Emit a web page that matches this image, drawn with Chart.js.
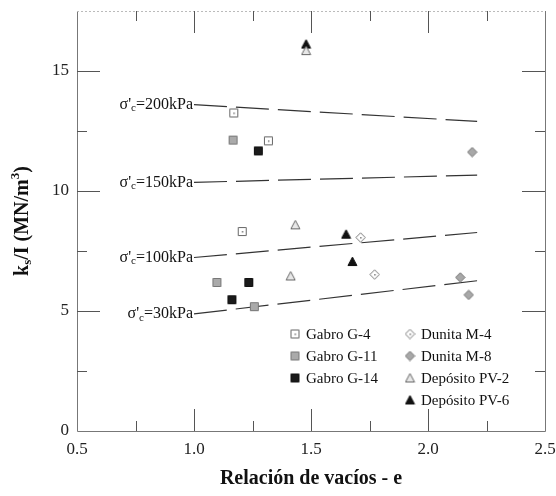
<!DOCTYPE html>
<html>
<head>
<meta charset="utf-8">
<script src="https://cdn.jsdelivr.net/npm/chart.js@4/dist/chart.umd.min.js"></script>
<style>
  html, body { margin: 0; padding: 0; background: #fff; }
  #wrap { width: 556px; height: 496px; }
</style>
</head>
<body>
<div id="wrap"><canvas id="chart" width="556" height="496"></canvas></div>
<script>
// axis ticks
const xTicks = [0.5, 1.0, 1.5, 2.0, 2.5];
const yTicks = [0, 5, 10, 15];

// measured points (void ratio e, ks/I)
const gabroG4_e = [1.170, 1.318, 1.206];
const gabroG4_k = [13.25, 12.09, 8.31];
const gabroG11_e = [1.167, 1.098, 1.258];
const gabroG11_k = [12.12, 6.19, 5.18];
const gabroG14_e = [1.275, 1.234, 1.162];
const gabroG14_k = [11.67, 6.19, 5.47];
const dunitaM4_e = [1.712, 1.772];
const dunitaM4_k = [8.06, 6.52];
const dunitaM8_e = [2.189, 2.138, 2.174];
const dunitaM8_k = [11.62, 6.40, 5.67];
const pv2_e = [1.479, 1.433, 1.413];
const pv2_k = [15.85, 8.59, 6.46];
const pv6_e = [1.479, 1.650, 1.677];
const pv6_k = [16.12, 8.20, 7.06];

// dashed trend lines per confining stress
const trendLabels = ["200kPa", "150kPa", "100kPa", "30kPa"];
const trend_e = [1.0, 2.21];
const trend200 = [13.6, 12.9];
const trend150 = [10.36, 10.66];
const trend100 = [7.23, 8.27];
const trend30 = [4.88, 6.26];

const FONT = "'Liberation Serif', 'DejaVu Serif', serif";

function makeMarker(shape, fill, stroke, dot) {
    const c = document.createElement("canvas");
    c.width = 11; c.height = 11;
    const g = c.getContext("2d");
    g.fillStyle = fill;
    g.strokeStyle = stroke;
    g.lineWidth = 1;
    g.beginPath();
    if (shape === "square") {
        g.rect(1.5, 1.5, 8, 8);
    } else if (shape === "diamond") {
        g.moveTo(5.5, 0.8); g.lineTo(10.2, 5.5); g.lineTo(5.5, 10.2); g.lineTo(0.8, 5.5); g.closePath();
    } else {
        g.moveTo(5.5, 1); g.lineTo(10, 9.5); g.lineTo(1, 9.5); g.closePath();
    }
    g.fill();
    g.stroke();
    if (dot) {
        g.fillStyle = "#777";
        g.fillRect(5, 5, 1.5, 1.5);
    }
    return c;
}

const mk = {
    g4: makeMarker("square", "#fff", "#666", true),
    g11: makeMarker("square", "#aaa", "#777", false),
    g14: makeMarker("square", "#1a1a1a", "#111", false),
    m4: makeMarker("diamond", "#fff", "#777", true),
    m8: makeMarker("diamond", "#a8a8a8", "#777", false),
    pv2: makeMarker("triangle", "#e8e8e8", "#666", false),
    pv6: makeMarker("triangle", "#111", "#111", false)
};

function pts(xs, ys) {
    return xs.map((x, i) => ({ x: x, y: ys[i] }));
}

function pointSet(label, xs, ys, img) {
    return {
        label: label,
        data: pts(xs, ys),
        pointStyle: img,
        showLine: false,
        order: 1
    };
}

function trendSet(label, ys) {
    return {
        label: label,
        data: pts(trend_e, ys),
        showLine: true,
        borderColor: "#333",
        borderWidth: 1.2,
        borderDash: [33, 9],
        pointRadius: 0,
        isTrend: true,
        order: 5
    };
}

const datasets = [
    trendSet(trendLabels[0], trend200),
    trendSet(trendLabels[1], trend150),
    trendSet(trendLabels[2], trend100),
    trendSet(trendLabels[3], trend30),
    pointSet("Gabro G-4", gabroG4_e, gabroG4_k, mk.g4),
    pointSet("Gabro G-11", gabroG11_e, gabroG11_k, mk.g11),
    pointSet("Gabro G-14", gabroG14_e, gabroG14_k, mk.g14),
    pointSet("Dunita M-4", dunitaM4_e, dunitaM4_k, mk.m4),
    pointSet("Dunita M-8", dunitaM8_e, dunitaM8_k, mk.m8),
    pointSet("Depósito PV-2", pv2_e, pv2_k, mk.pv2),
    pointSet("Depósito PV-6", pv6_e, pv6_k, mk.pv6)
];

// frame, inward ticks, titles, trend labels and legend
const decorPlugin = {
    id: "decor",
    afterDraw(chart) {
        const ctx = chart.ctx;
        const a = chart.chartArea;
        const xs = chart.scales.x;
        const ys = chart.scales.y;
        ctx.save();

        // frame
        ctx.strokeStyle = "#777";
        ctx.lineWidth = 1;
        ctx.beginPath();
        ctx.moveTo(a.left + 0.5, a.top); ctx.lineTo(a.left + 0.5, a.bottom + 0.5);
        ctx.lineTo(a.right + 0.5, a.bottom + 0.5); ctx.lineTo(a.right + 0.5, a.top);
        ctx.stroke();
        ctx.strokeStyle = "#bbb";
        ctx.setLineDash([2, 2]);
        ctx.beginPath();
        ctx.moveTo(a.left, a.top + 0.5); ctx.lineTo(a.right, a.top + 0.5);
        ctx.stroke();
        ctx.setLineDash([]);

        // inward ticks
        ctx.strokeStyle = "#555";
        ctx.beginPath();
        for (let v = 0.75; v < 2.5; v += 0.25) {
            const px = Math.round(xs.getPixelForValue(v)) + 0.5;
            const len = Math.abs((v * 2) % 1) < 0.01 ? 22 : 10;
            ctx.moveTo(px, a.bottom); ctx.lineTo(px, a.bottom - len);
            ctx.moveTo(px, a.top); ctx.lineTo(px, a.top + len);
        }
        for (let v = 2.5; v < 17.5; v += 2.5) {
            const py = Math.round(ys.getPixelForValue(v)) + 0.5;
            const len = (v % 5) === 0 ? 23 : 10;
            ctx.moveTo(a.left, py); ctx.lineTo(a.left + len, py);
            ctx.moveTo(a.right, py); ctx.lineTo(a.right - len, py);
        }
        ctx.stroke();

        // trend line labels  σ'c=...
        ctx.fillStyle = "#111";
        ctx.textBaseline = "middle";
        chart.data.datasets.forEach((ds) => {
            if (!ds.isTrend) return;
            const x0 = xs.getPixelForValue(ds.data[0].x) - 1;
            const y0 = ys.getPixelForValue(ds.data[0].y);
            ctx.font = "16px " + FONT;
            const main = "=" + ds.label;
            const wMain = ctx.measureText(main).width;
            ctx.font = "11px " + FONT;
            const wSub = ctx.measureText("c").width;
            ctx.font = "16px " + FONT;
            const wSig = ctx.measureText("σ'").width;
            let x = x0 - wMain - wSub - wSig;
            ctx.textAlign = "left";
            ctx.fillText("σ'", x, y0);
            x += wSig;
            ctx.font = "11px " + FONT;
            ctx.fillText("c", x, y0 + 4);
            x += wSub;
            ctx.font = "16px " + FONT;
            ctx.fillText(main, x, y0);
        });

        // legend (two columns)
        const pointSets = chart.data.datasets.filter((d) => !d.isTrend);
        const cols = [
            { mx: a.left + 218, tx: a.left + 229, items: pointSets.slice(0, 3) },
            { mx: a.left + 333, tx: a.left + 344, items: pointSets.slice(3) }
        ];
        ctx.font = "15px " + FONT;
        ctx.textAlign = "left";
        cols.forEach((col) => {
            col.items.forEach((ds, i) => {
                const y = a.top + 323 + i * 22;
                ctx.drawImage(ds.pointStyle, col.mx - 5.5, y - 5.5);
                ctx.fillText(ds.label, col.tx, y + 1);
            });
        });

        // x title
        ctx.font = "bold 20px " + FONT;
        ctx.textAlign = "center";
        ctx.fillText("Relación de vacíos - e", (a.left + a.right) / 2, 479);

        // y title  ks/I (MN/m3)
        ctx.translate(23, (a.top + a.bottom) / 2);
        ctx.rotate(-Math.PI / 2);
        const parts = [
            ["k", 20, 0], ["s", 13, 5], ["/I (MN/m", 20, 0], ["3", 13, -7], [")", 20, 0]
        ];
        let total = 0;
        parts.forEach((p) => { ctx.font = "bold " + p[1] + "px " + FONT; total += ctx.measureText(p[0]).width; });
        let x = -total / 2;
        ctx.textAlign = "left";
        parts.forEach((p) => {
            ctx.font = "bold " + p[1] + "px " + FONT;
            ctx.fillText(p[0], x, p[2]);
            x += ctx.measureText(p[0]).width;
        });
        ctx.restore();
    }
};

new Chart(document.getElementById("chart").getContext("2d"), {
    type: "scatter",
    data: { datasets: datasets },
    options: {
        responsive: false,
        animation: false,
        layout: { padding: { top: 11, right: 11, left: 0, bottom: 0 } },
        plugins: {
            legend: { display: false },
            tooltip: { enabled: false }
        },
        scales: {
            x: {
                type: "linear",
                min: 0.5,
                max: 2.5,
                afterFit(scale) {
                    scale.height = 65;
                    scale.paddingLeft = 0;
                    scale.paddingRight = 0;
                },
                afterBuildTicks(scale) { scale.ticks = xTicks.map((v) => ({ value: v })); },
                grid: { display: false, drawTicks: false },
                border: { display: false },
                ticks: {
                    padding: 8,
                    color: "#222",
                    font: { family: FONT, size: 17 },
                    callback: (v) => Number(v).toFixed(1)
                }
            },
            y: {
                type: "linear",
                min: 0,
                max: 17.5,
                afterFit(scale) {
                    scale.width = 77;
                    scale.paddingTop = 0;
                    scale.paddingBottom = 0;
                },
                afterBuildTicks(scale) { scale.ticks = yTicks.map((v) => ({ value: v })); },
                grid: { display: false, drawTicks: false },
                border: { display: false },
                ticks: {
                    padding: 8,
                    color: "#222",
                    font: { family: FONT, size: 17 },
                    callback: (v) => String(v)
                }
            }
        }
    },
    plugins: [decorPlugin]
});
</script>
</body>
</html>
